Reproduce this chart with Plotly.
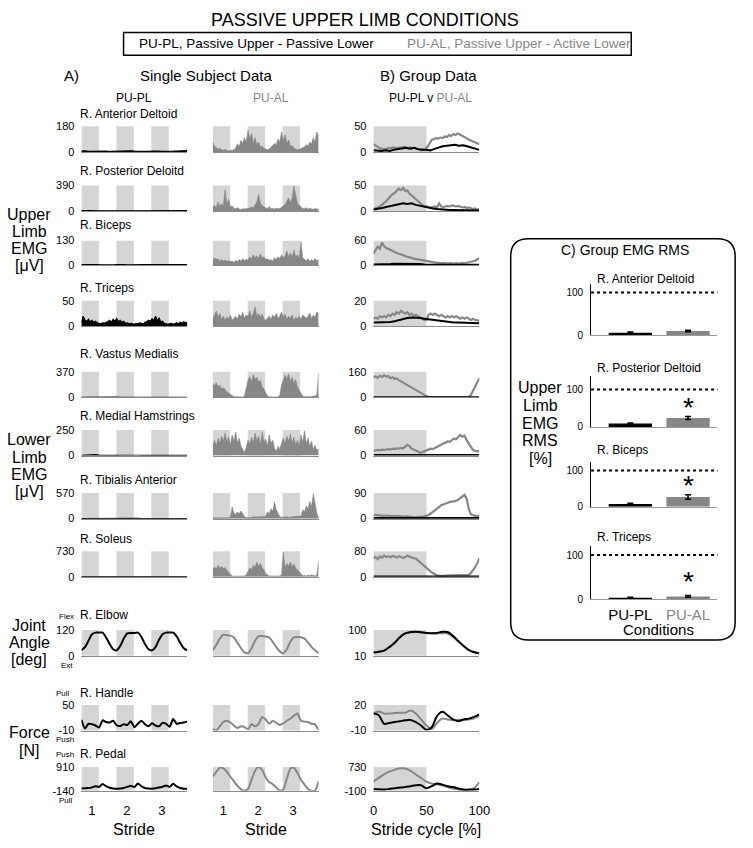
import numpy as np
import plotly.graph_objects as go

W, H = 753, 848
FONT = "Liberation Sans, Arial, sans-serif"
GRAY = "#878787"
SHADE = "#d5d5d5"

# ---------------- DATA ----------------
row_titles = ["R. Anterior Deltoid", "R. Posterior Deloitd", "R. Biceps", "R. Triceps",
              "R. Vastus Medialis", "R. Medial Hamstrings", "R. Tibialis Anterior", "R. Soleus",
              "R. Elbow", "R. Handle", "R. Pedal"]
single_ranges = [(0, 180), (0, 390), (0, 130), (0, 50), (0, 370), (0, 250), (0, 570), (0, 730),
                 (0, 120), (-10, 50), (-140, 910)]
group_ranges = [(0, 50), (0, 50), (0, 60), (0, 20), (0, 160), (0, 60), (0, 90), (0, 80),
                (10, 100), (-10, 20), (-100, 730)]
stride_ticks = [0.3, 1.3, 2.3]
stride_labels = ["1", "2", "3"]
cycle_ticks = [0, 50, 100]

# single subject, PU-PL (µV / deg / N)
ss_ant_delt_pl = [6,8,4,5,3,4,6,5,3,4,5,7,4,6,8,5,4,3,5,4,6,3,5,4,3,4,5,6,8,12,10]
ss_post_delt_pl = [5,8,4,6,3,5,4,6,5,4,3,5,4,8,5,4,3,4,6,5,4,3,5,4,6,3,4,5,4,6,8]
ss_biceps_pl = [3,4,2,3,4,3,2,4,3,2,3,4,3,2,3,4,2,3,4,3,2,3,4,3,2,3,4,3,2,3,4]
ss_triceps_pl = [8,20,12,10,14,9,12,8,10,7,6,5,7,6,8,9,12,8,14,10,15,9,12,8,10,6,7,5,6,5,
                 4,6,5,7,6,5,8,9,12,10,15,11,20,12,16,9,10,6,5,4,5,6,4,5,7,5,8,6,9,7,8]
ss_vastus_pl = [2,3,2,2,3,2,2,3,2,2,3,2,2,3,2,2,3,2,2,3,2,2,3,2,2,3,2,2,3,2,2]
ss_hams_pl = [3,5,4,6,8,5,3,2,3,2,2,3,4,6,5,4,3,2,2,3,2,3,5,7,6,4,3,2,2,3,2]
ss_tib_pl = [3,4,3,3,4,3,3,4,3,3,4,3,3,4,3,3,4,3,3,4,3,3,4,3,3,4,3,3,4,3,3]
ss_soleus_pl = [4,5,4,4,6,4,4,5,4,4,5,4,4,6,4,4,5,4,4,5,4,4,6,4,4,5,4,4,5,4,4]
ss_elbow_pl = [25,40,70,100,108,108,108,85,55,30,25,45,80,104,106,106,108,88,55,30,
               25,40,75,100,108,108,108,90,60,35,25]
ss_handle_pl = [15,-5,6,5,2,-3,14,10,9,13,2,1,5,3,12,-2,6,13,5,0,7,2,0,8,6,-1,17,6,8,9,11]
ss_pedal_pl = [-40,-30,-20,10,60,30,160,60,-10,-40,-50,-40,-20,30,80,20,180,60,-20,-40,
               -50,-30,0,40,90,30,170,50,-20,-50,-50]

# single subject, PU-AL
ss_ant_delt_al = [70,40,30,20,25,15,12,18,10,8,12,10,15,30,55,40,80,60,100,70,
                  150,90,130,60,100,50,70,35,40,25,20,15,20,30,45,60,50,90,70,140,
                  80,120,60,85,40,45,25,20,15,18,25,30,35,50,40,70,55,100,70,140,110]
ss_post_delt_al = [60,90,50,140,70,110,80,320,100,180,60,80,40,35,50,30,25,35,30,40,
                   35,45,60,50,90,140,250,120,90,60,50,40,70,35,40,30,45,35,40,60,
                   80,100,150,200,130,200,380,220,120,90,60,40,35,50,30,40,35,25,40,30,35]
ss_biceps_al = [25,40,30,35,20,30,22,28,18,25,20,22,15,25,20,30,22,35,25,30,
                28,45,35,55,40,50,35,60,40,45,30,35,25,30,22,40,30,45,35,55,
                40,50,75,45,65,40,80,45,55,35,125,40,30,25,35,20,30,22,35,25,30]
ss_triceps_al = [15,22,30,18,25,14,20,12,18,15,22,12,16,20,14,24,18,28,16,22,
                 20,30,18,26,38,20,25,18,24,15,12,16,20,14,22,18,25,16,20,28,
                 18,24,14,20,16,22,12,18,15,20,14,22,18,16,20,26,15,22,18,28,24]
ss_vastus_al = [200,170,210,150,180,120,140,100,80,60,40,25,10,8,5,6,4,6,20,150,
                250,300,230,330,260,290,220,250,150,120,60,20,8,5,6,4,5,8,30,180,
                250,320,260,340,230,290,200,260,150,100,50,20,10,8,12,6,10,20,15,40,350]
ss_hams_al = [100,150,90,170,120,190,140,220,130,180,100,200,140,230,120,170,90,60,30,80,
              150,110,180,120,220,140,190,100,230,130,160,90,200,120,150,70,40,90,60,120,
              170,110,190,140,210,120,180,100,150,90,200,130,240,110,170,90,140,60,100,50,70]
ss_tib_al = [30,20,25,15,20,18,25,20,15,20,40,260,120,90,150,110,170,90,40,25,
             20,30,25,40,30,35,45,35,50,40,60,150,110,220,170,370,200,120,40,30,
             35,25,40,30,35,25,40,45,40,50,60,200,150,280,220,380,260,550,300,120,30]
ss_soleus_al = [200,280,220,330,240,300,230,260,180,120,60,25,15,20,12,18,15,20,25,60,
                150,250,200,330,280,420,300,380,250,200,90,40,20,25,15,20,25,15,30,50,
                700,250,380,300,420,280,360,250,200,150,70,30,40,25,50,30,60,40,20,50,470]
ss_elbow_al = [25,50,80,98,96,94,85,60,35,15,12,35,70,92,92,90,85,65,40,20,
               12,30,65,86,88,86,80,62,40,25,12]
ss_handle_al = [-6,-9,0,10,13,9,2,-4,0,-2,-7,5,0,6,22,16,6,13,8,3,7,13,18,25,30,13,11,10,6,4,-8]
ss_pedal_al = [500,700,880,850,700,480,280,80,-80,-140,-60,350,750,910,780,450,250,150,0,-130,
               -80,400,850,880,650,350,130,-60,-140,-130,280]

# group data (% stride cycle), PU-PL
g_ant_delt_pl = [3,2,2,3,2,4,5,7,8,6,8,5,4,3,3,6,9,11,12,13,14,12,13,11,9,6,4]
g_post_delt_pl = [3,4,6,8,10,12,13,15,14,15,12,10,9,7,5,4,3,3,2,2,2,2,2,1,1,1]
g_biceps_pl = [2,2,3,3,3,4,4,4,4,3,3,3,2,2,2,2,1,1,1,1,1,1,1,1,1,1]
g_triceps_pl = [3,3,3,3,3.5,4,5,6,6.5,7,7,6.5,6,5.5,5,4.5,4,3.5,3,3,3,3,3,3,3,2.5]
g_vastus_pl = [1,1,1,1,1,1,1,1,1,1,1]
g_hams_pl = [1,1,1,1,1,1,1,1,1,1,1]
g_tib_pl = [2,2,2,2,2,2,2,2,2,2,2]
g_soleus_pl = [1,1,1,1,1,1,1,1,1,1,1]
g_elbow_pl = [21,24,28,40,55,75,88,93,94,92,90,89,90,94,93,80,62,45,30,22,18]
g_handle_pl = [10,8,-2,-1,0,1,2,2.5,0,-4,-9,-6,7,12,8,3,1,3,4,6,9]
g_pedal_pl = [-36,-50,-60,-40,-10,10,28,60,92,92,-10,60,150,115,60,28,-20,-60,-60,-60,-36]

# group data, PU-AL
g_ant_delt_al = [15,12,10,7,6,5,6,8,7,9,8,7,9,8,10,8,7,9,7,8,6,5,3,4,6,10,18,24,25,27,
                 26,28,27,30,29,33,31,35,33,36,34,32,30,27,24,22,20,18,16,15]
g_post_delt_al = [4,5,7,9,12,15,19,24,29,33,35,40,44,41,45,39,40,34,30,27,24,20,15,12,10,
                  9,8,7,8,9,7,15,9,8,9,10,9,11,10,9,10,8,7,8,6,7,5,4,5,3,4]
g_biceps_al = [28,38,45,40,55,47,42,40,37,35,33,30,28,27,25,22,21,19,18,16,15,14,13,12,11,
               10,9,8,8,7,6,6,5,6,5,4,5,4,4,5,4,5,6,5,6,7,8,9,11,14,17]
g_triceps_al = [6,7,6,8,7,8,7,9,8,10,9,11,10,12,11,10,11,9,10,8,9,8,7,6,5,5,9,10,9,10,
                9,8,9,8,7,8,7,8,7,8,7,6,7,6,7,6,5,6,5,5,4]
g_vastus_al = [125,130,122,135,128,138,130,132,120,125,115,118,108,100,95,85,78,70,62,55,
               45,38,30,22,15,8,4,2,1,1,1,1,1,1,1,1,1,1,1,1,1,1,1,2,2,4,15,40,65,90,120]
g_hams_al = [11,12,13,12,14,13,14,15,14,16,15,17,16,18,17,20,25,22,16,14,12,9,7,8,10,
             12,14,16,15,18,20,23,25,28,30,33,32,36,40,38,44,48,44,47,36,28,20,13,11,10,11]
g_tib_al = [13,12,12,11,11,10,11,10,10,9,10,9,9,8,8,7,8,7,6,5,5,6,5,6,8,10,13,18,24,30,
            36,42,47,50,54,56,58,61,60,63,66,72,78,84,70,35,15,12,10,10,10]
g_soleus_al = [58,62,55,63,60,66,62,64,61,65,63,60,64,61,59,62,66,63,60,58,57,52,46,40,34,
               27,21,16,12,8,5,3,2,3,4,4,5,5,6,6,6,5,5,5,5,6,12,20,30,42,58]
g_elbow_al = [22,24,28,40,56,76,88,92,93,92,90,89,88,89,88,76,60,44,30,23,19]
g_handle_al = [10,12.5,10,10,10.5,11,11,13.5,10,3,-4,-8,-1,4,3,2.5,2.5,2.5,3,4.5,7]
g_pedal_al = [220,350,475,570,640,685,680,600,470,345,220,150,130,80,28,-20,-60,-70,-75,-10,195]

# group EMG RMS (%)
rms_conditions = ["PU-PL", "PU-AL"]
rms_titles = ["R. Anterior Deltoid", "R. Posterior Deltoid", "R. Biceps", "R. Triceps"]
rms_ant_delt = [6, 10]
rms_ant_delt_err = [1.5, 2]
rms_post_delt = [9, 24]
rms_post_delt_err = [1.5, 4]
rms_biceps = [8, 27]
rms_biceps_err = [1.5, 6]
rms_triceps = [4, 7]
rms_triceps_err = [1, 2]
rms_significant = [False, True, True, True]

# ---------------- FIGURE ----------------
ss_pl = [ss_ant_delt_pl, ss_post_delt_pl, ss_biceps_pl, ss_triceps_pl, ss_vastus_pl, ss_hams_pl,
         ss_tib_pl, ss_soleus_pl, ss_elbow_pl, ss_handle_pl, ss_pedal_pl]
ss_al = [ss_ant_delt_al, ss_post_delt_al, ss_biceps_al, ss_triceps_al, ss_vastus_al, ss_hams_al,
         ss_tib_al, ss_soleus_al, ss_elbow_al, ss_handle_al, ss_pedal_al]
g_pl = [g_ant_delt_pl, g_post_delt_pl, g_biceps_pl, g_triceps_pl, g_vastus_pl, g_hams_pl,
        g_tib_pl, g_soleus_pl, g_elbow_pl, g_handle_pl, g_pedal_pl]
g_al = [g_ant_delt_al, g_post_delt_al, g_biceps_al, g_triceps_al, g_vastus_al, g_hams_al,
        g_tib_al, g_soleus_al, g_elbow_al, g_handle_al, g_pedal_al]
rms_vals = [rms_ant_delt, rms_post_delt, rms_biceps, rms_triceps]
rms_errs = [rms_ant_delt_err, rms_post_delt_err, rms_biceps_err, rms_triceps_err]


def PX(x):
    return x / W


def PY(y):
    return 1 - y / H


fig = go.Figure()
layout = dict(width=W, height=H, margin=dict(l=0, r=0, t=0, b=0), paper_bgcolor="white",
              plot_bgcolor="white", showlegend=False, font=dict(family=FONT, color="black"))
shapes = []
annotations = []
counter = [0]


def add_axes(x0, x1, ytop, ybot, xr, yr, yticks=None, ytext=None, xticks=None, xtext=None,
             xlinecolor="#8a8a8a", ylinecolor=None, ystand=5, yfont=11, xfont=13, xstand=6):
    counter[0] += 1
    s = "" if counter[0] == 1 else str(counter[0])
    xa = dict(domain=[PX(x0), PX(x1)], range=xr, anchor="y" + s, showgrid=False, zeroline=False,
              showline=xlinecolor is not None, linecolor=xlinecolor or "black", linewidth=1,
              ticks="", fixedrange=True)
    if xticks is not None:
        xa.update(showticklabels=True, tickvals=xticks, ticktext=xtext,
                  tickfont=dict(size=xfont, color="black"), ticklabelstandoff=xstand)
    else:
        xa.update(showticklabels=False)
    ya = dict(domain=[PY(ybot), PY(ytop)], range=yr, anchor="x" + s, showgrid=False, zeroline=False,
              showline=ylinecolor is not None, linecolor=ylinecolor or "black", linewidth=1,
              ticks="", fixedrange=True)
    if yticks is not None:
        ya.update(showticklabels=True, tickvals=yticks, ticktext=ytext,
                  tickfont=dict(size=yfont, color="black"), ticklabelstandoff=ystand)
    else:
        ya.update(showticklabels=False)
    layout["xaxis" + s] = xa
    layout["yaxis" + s] = ya
    return s


def text(t, x, y, size, color="black", xanchor="center", yanchor="middle"):
    annotations.append(dict(text=t, x=PX(x), y=PY(y), xref="paper", yref="paper", showarrow=False,
                            font=dict(size=size, color=color, family=FONT),
                            xanchor=xanchor, yanchor=yanchor))


row_boxes = [(122, 148), (182, 208), (238, 263), (299, 325), (371, 397), (430, 456), (494, 520),
             (553, 579), (633, 659), (709, 735), (772, 796)]
col_boxes = [(79, 187), (213, 321), (377, 485)]
title_y = [110, 167, 222, 286, 353, 416, 481, 541, 618, 697, 759]
SS_MAX = 3.03

for r in range(11):
    ytop, ybot = row_boxes[r]
    is_emg = r < 8
    last = r == 10
    for c in range(3):
        x0, x1 = col_boxes[c]
        if c < 2:
            lo, hi = single_ranges[r]
            xr = [0, SS_MAX]
            xt = stride_ticks if last else None
            xtx = stride_labels if last else None
        else:
            lo, hi = group_ranges[r]
            xr = [0, 100]
            xt = cycle_ticks if last else None
            xtx = [str(v) for v in cycle_ticks] if last else None
        yt = [lo, hi] if c != 1 else None
        ytx = [str(lo), str(hi)] if c != 1 else None
        s = add_axes(x0, x1, ytop, ybot, xr, [lo, hi], yticks=yt, ytext=ytx,
                     xticks=xt, xtext=xtx, ystand=6, xstand=8)
        # shading
        if c < 2:
            for k in range(3):
                shapes.append(dict(type="rect", xref="x" + s, yref="y" + s + " domain",
                                   x0=k, x1=k + 0.5, y0=0, y1=1, fillcolor=SHADE,
                                   line=dict(width=0), layer="below"))
        else:
            shapes.append(dict(type="rect", xref="x" + s, yref="y" + s + " domain",
                               x0=0, x1=50, y0=0, y1=1, fillcolor=SHADE,
                               line=dict(width=0), layer="below"))
        # traces
        if c < 2:
            vals = ss_pl[r] if c == 0 else ss_al[r]
            col = "black" if c == 0 else GRAY
            xs = np.linspace(0, SS_MAX, len(vals))
            if is_emg:
                fig.add_trace(go.Scatter(x=xs, y=vals, mode="lines", fill="tozeroy",
                                         fillcolor=col, line=dict(color=col, width=1.2 if c == 0 else 0.6),
                                         xaxis="x" + s, yaxis="y" + s, hoverinfo="skip"))
            else:
                fig.add_trace(go.Scatter(x=xs, y=vals, mode="lines",
                                         line=dict(color=col, width=2, shape="spline", smoothing=0.6),
                                         xaxis="x" + s, yaxis="y" + s, hoverinfo="skip"))
        else:
            va = g_al[r]
            vp = g_pl[r]
            sh = "linear" if is_emg else "spline"
            fig.add_trace(go.Scatter(x=np.linspace(0, 100, len(va)), y=va, mode="lines",
                                     line=dict(color=GRAY, width=2.2 if is_emg else 2, shape=sh),
                                     xaxis="x" + s, yaxis="y" + s, hoverinfo="skip"))
            fig.add_trace(go.Scatter(x=np.linspace(0, 100, len(vp)), y=vp, mode="lines",
                                     line=dict(color="black", width=2, shape=sh),
                                     xaxis="x" + s, yaxis="y" + s, hoverinfo="skip"))
    text(row_titles[r], 76, title_y[r], 12, xanchor="left")

# ---- Panel C bars ----
bar_boxes = [(282, 334, 120), (375, 427, 137), (463, 508, 122), (548, 602, 120)]
bar_title_y = [277, 367, 450, 539]
star_y = [0, 52, 58, 40]
for b in range(4):
    ytop, ybot, ymax = bar_boxes[b]
    last = b == 3
    s = add_axes(599, 728, ytop, ybot, [-0.68, 1.51], [0, ymax], yticks=[0, 100], ytext=["0", "100"],
                 xticks=[0, 1] if last else None,
                 xtext=["PU-PL", "<span style='color:%s'>PU-AL</span>" % GRAY] if last else None,
                 xlinecolor="#9a9a9a", ylinecolor="black", ystand=5, yfont=10, xfont=15, xstand=2)
    fig.add_trace(go.Bar(x=[0, 1], y=rms_vals[b], width=0.75, marker=dict(color=["black", GRAY], line=dict(width=0)),
                         error_y=dict(type="data", array=rms_errs[b], color="black", thickness=1.5, width=3),
                         xaxis="x" + s, yaxis="y" + s, hoverinfo="skip"))
    shapes.append(dict(type="line", xref="x" + s + " domain", yref="y" + s, x0=0, x1=1, y0=100, y1=100,
                       line=dict(color="black", width=2, dash="dot")))
    text(rms_titles[b], 603, bar_title_y[b], 12, xanchor="left")
    if rms_significant[b]:
        annotations.append(dict(text="*", x=1, y=star_y[b], xref="x" + s, yref="y" + s, showarrow=False,
                                font=dict(size=28, color="black", family=FONT)))

# rounded box for panel C
bx0, by0, bx1, by1, rr = 517, 236, 746, 643, 18
path = ("M {a},{b} L {c},{b} Q {d},{b} {d},{e} L {d},{f} Q {d},{g} {c},{g} L {a},{g} "
        "Q {h},{g} {h},{f} L {h},{e} Q {h},{b} {a},{b} Z").format(
    a=PX(bx0 + rr), b=PY(by0), c=PX(bx1 - rr), d=PX(bx1), e=PY(by0 + rr), f=PY(by1 - rr),
    g=PY(by1), h=PX(bx0))
shapes.append(dict(type="path", path=path, xref="paper", yref="paper", line=dict(color="black", width=1.5)))

# legend box
shapes.append(dict(type="rect", xref="paper", yref="paper", x0=PX(122), x1=PX(640), y0=PY(50), y1=PY(27),
                   line=dict(color="black", width=1.5)))

# ---- texts ----
text("PASSIVE UPPER LIMB CONDITIONS", 368, 14, 18)
text("PU-PL, Passive Upper - Passive Lower", 136, 38.5, 13.5, xanchor="left")
text("PU-AL, Passive Upper - Active Lower", 409, 38.5, 13.5, color=GRAY, xanchor="left")
text("A)", 69, 70, 15)
text("Single Subject Data", 206, 70, 15)
text("B) Group Data", 433, 70, 15)
text("PU-PL", 133, 93, 12)
text("PU-AL", 272, 93, 12, color=GRAY)
text("PU-PL v <span style='color:%s'>PU-AL</span>" % GRAY, 435, 93, 12)


def stack(lines, x, y0, dy, size):
    for k, t in enumerate(lines):
        text(t, x, y0 + k * dy, size)


stack(["Upper", "Limb", "EMG", "[\u03bcV]"], 26, 211, 17.5, 16)
stack(["Lower", "Limb", "EMG", "[\u03bcV]"], 26, 440, 17.5, 16)
stack(["Joint", "Angle", "[deg]"], 26, 628, 17.5, 16)
stack(["Force", "[N]"], 26, 737, 18, 16)
stack(["Upper", "Limb", "EMG", "RMS", "[%]"], 547, 387, 18, 16)

text("Flex", 64, 619, 8)
text("Ext", 64, 669, 8)
text("Pull", 60, 697, 8)
text("Push", 62, 744, 8)
text("Push", 62, 759, 8)
text("Pull", 63, 806, 8)

text("Stride", 133, 835, 16)
text("Stride", 267, 835, 16)
text("Stride cycle [%]", 431, 835, 16)
text("C) Group EMG RMS", 634, 248, 14)
text("Conditions", 668, 632, 15)

layout["shapes"] = shapes
layout["annotations"] = annotations
fig.update_layout(**layout)
fig.write_html("out.html", config={"displayModeBar": False, "staticPlot": True}, post_script=(
    "document.body.style.margin='0px';"
    "document.body.style.overflow='hidden';"
    "document.documentElement.style.overflow='hidden';"))
